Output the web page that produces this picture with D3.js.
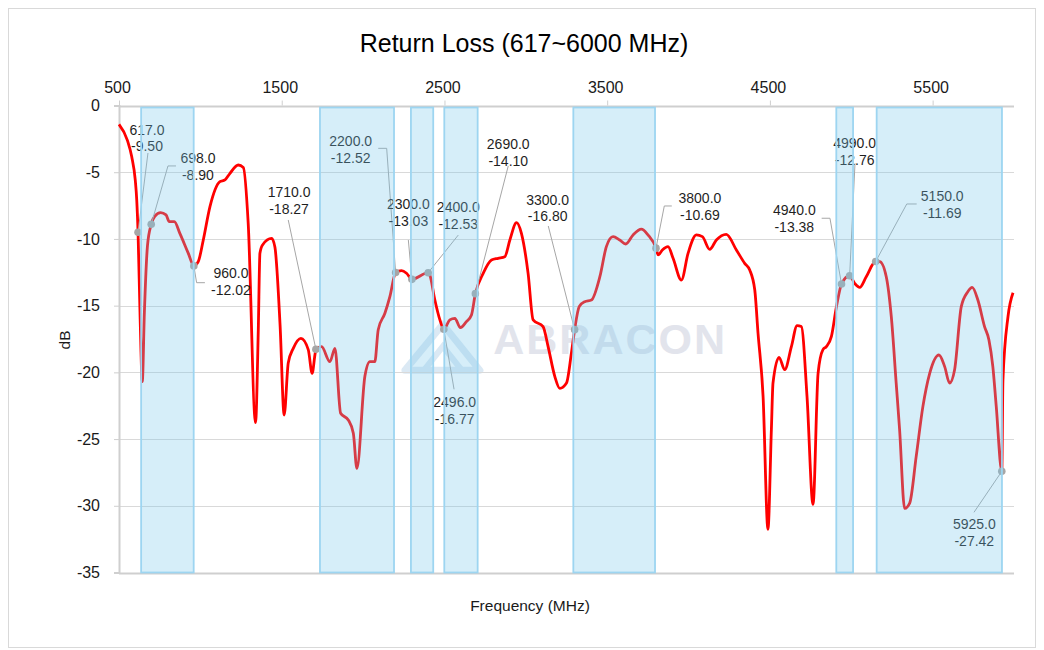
<!DOCTYPE html>
<html><head><meta charset="utf-8">
<script src="https://cdn.jsdelivr.net/npm/d3@7"></script>
<style>
html,body{margin:0;padding:0;background:#fff;}
svg{display:block;font-family:"Liberation Sans",Arial,sans-serif;}
</style></head><body>
<svg id="chart" width="1044" height="650"></svg>
<script>
// ---- data ----
const freq = [500,551,578,600,609,617,630,643,656,675,698,720,756,789,809,840,874,926,960,987,1018,1059,1120,1151,1182,1233,1264,1294,1339,1356,1366,1382,1438,1458,1490,1515,1540,1571,1618,1663,1687,1704,1710,1745,1796,1827,1862,1909,1940,1962,2011,2042,2072,2093,2134,2165,2200,2236,2267,2300,2400,2410,2441,2472,2496,2533,2564,2598,2635,2666,2690,2738,2789,2830,2871,2902,2943,2973,3014,3045,3106,3137,3178,3209,3250,3280,3300,3328,3362,3403,3455,3495,3536,3577,3614,3659,3710,3751,3800,3813,3839,3874,3905,3956,3997,4048,4085,4130,4171,4232,4294,4345,4376,4407,4427,4458,4488,4509,4519,4556,4591,4632,4667,4693,4728,4765,4796,4826,4847,4878,4909,4940,4990,5021,5052,5092,5150,5175,5215,5246,5276,5297,5328,5359,5399,5440,5482,5539,5574,5604,5635,5676,5716,5743,5778,5819,5846,5870,5891,5925,5932,5963,5994];
const returnLoss = [-1.41,-2.59,-3.83,-5.6,-7.08,-9.50,-16.0,-20.7,-15.5,-10.5,-8.90,-8.3,-8.03,-8.2,-8.7,-8.7,-9.58,-11.08,-12.02,-11.7,-10.08,-7.58,-5.71,-5.58,-5.08,-4.46,-4.64,-8.83,-23.77,-16.8,-11.08,-10.45,-9.96,-10.6,-16.5,-23.2,-19.3,-18.2,-17.45,-18.3,-20.07,-18.7,-18.27,-18.07,-19.2,-18.2,-23.07,-23.57,-24.57,-27.2,-20.3,-19.2,-19.2,-16.8,-15.57,-14.3,-12.52,-12.37,-12.57,-13.03,-12.53,-12.7,-14.58,-16.07,-16.77,-16.07,-15.95,-16.65,-16.2,-15.7,-14.10,-12.58,-11.58,-11.45,-11.33,-10.08,-8.78,-9.58,-12.58,-16.07,-16.57,-18.07,-20.3,-21.2,-20.8,-18.57,-16.80,-15.07,-14.7,-14.58,-12.83,-10.58,-9.83,-10.08,-10.38,-9.7,-9.26,-9.7,-10.69,-11.2,-10.83,-10.58,-11.45,-13.08,-11.08,-9.7,-9.83,-10.78,-10.08,-9.66,-10.83,-11.83,-12.33,-13.83,-17.07,-21.8,-31.76,-24.3,-20.8,-18.87,-19.8,-18.07,-16.5,-16.57,-21.8,-29.9,-20.07,-18.3,-18.07,-17.3,-15.07,-13.38,-12.76,-13.33,-13.63,-12.83,-11.69,-11.7,-12.83,-15.83,-20.8,-24.3,-30.2,-29.8,-26.3,-22.57,-20.07,-18.7,-19.57,-20.8,-19.8,-15.07,-13.96,-13.63,-14.58,-16.57,-17.57,-19.57,-22.57,-27.42,-20.6,-15.83,-14.03];

const xTicks = [500,1500,2500,3500,4500,5500];
const yTicks = [0,-5,-10,-15,-20,-25,-30,-35];

const bandStart = [636,1735,2294,2499,3292,4908,5156];
const bandEnd   = [959,2190,2431,2704,3794,5011,5926];

const markFreq  = [617,698,960,1710,2200,2300,2400,2496,2690,3300,3800,4940,4990,5150,5925];
const markValue = [-9.50,-8.90,-12.02,-18.27,-12.52,-13.03,-12.53,-16.77,-14.10,-16.80,-10.69,-13.38,-12.76,-11.69,-27.42];

// label anchors and leader ends, in data units (MHz, dB)
const labelFreq  = [672,985,1188,1545,1924,2278,2585,2563,2892,3134,4070,4650,5021,5559,5756];
const labelDb    = [-2.44,-4.57,-13.19,-7.12,-3.30,-8.04,-8.23,-22.86,-3.52,-7.70,-7.58,-8.49,-3.46,-7.43,-31.99];
const leaderFreq = [678,850,1028,1540,2093,2278,2585,2559,2892,3138,3897,4818,5023,5402,5754];
const leaderDb   = [-3.56,-4.53,-13.28,-8.58,-3.21,-10.08,-9.71,-21.27,-4.53,-9.03,-7.53,-8.45,-4.33,-7.38,-30.49];
const elbowFreq  = [null,801,977,null,2145,null,null,null,null,null,3851,4869,null,5341,null];

const titleText = "Return Loss (617~6000 MHz)";
const xTitle = "Frequency (MHz)";
const yTitle = "dB";

// ---- drawing ----
const svg = d3.select("#chart");
const W = 1044, H = 650;
const plot = {left:119, right:1014, top:105.5, bottom:572.5};

const x = d3.scaleLinear().domain([500,6000]).range([plot.left, plot.right]);
const y = d3.scaleLinear().domain([0,-35]).range([plot.top, plot.bottom]);

svg.append("rect").attr("width",W).attr("height",H).attr("fill","#fff");
svg.append("rect").attr("x",8.5).attr("y",8.5).attr("width",1027).attr("height",639)
  .attr("fill","none").attr("stroke","#d9d9d9").attr("stroke-width",1);

// title
svg.append("text").attr("x",524).attr("y",52).attr("text-anchor","middle")
  .attr("font-size",25).attr("fill","#000").text(titleText);

// watermark
const wm = svg.append("g").attr("class","watermark");
const lx = x(2472), ly = y(-16.4);
wm.append("path")
  .attr("d", `M${lx-35},${ly+46} L${lx+3},${ly} L${lx+40},${ly+46} Z`)
  .attr("fill","none").attr("stroke","#dbe9f4").attr("stroke-width",7).attr("stroke-linejoin","round");
wm.append("path")
  .attr("d", `M${lx-16},${ly+46} L${lx+3},${ly+22} L${lx+22},${ly+46}`)
  .attr("fill","none").attr("stroke","#dbe9f4").attr("stroke-width",6);
wm.append("text").attr("x",x(2800)).attr("y",y(-18.6)).attr("font-size",43).attr("font-weight","bold")
  .attr("letter-spacing",2).attr("fill","#e2e4ec").text("ABRACON");

// gridlines
svg.append("g").selectAll("line").data(yTicks).join("line")
  .attr("x1",plot.left).attr("x2",plot.right)
  .attr("y1",d=>Math.round(y(d))+0.5).attr("y2",d=>Math.round(y(d))+0.5)
  .attr("stroke",d=> (d===0||d===-35)?"#cfcfcf":"#d9d9d9").attr("stroke-width",d=>(d===0||d===-35)?2:1);

// top axis
const fmt = d => String(d);
const xAxis = svg.append("g").attr("transform",`translate(0,${plot.top})`)
  .call(d3.axisTop(x).tickValues(xTicks).tickSize(5).tickPadding(8).tickFormat(fmt));
xAxis.select(".domain").remove();
xAxis.selectAll(".tick line").attr("stroke","#cfcfcf");
xAxis.selectAll("text").attr("font-size",16).attr("fill","#1a1a1a").attr("font-family","Liberation Sans, Arial, sans-serif").attr("dx","-2");

// left axis
const yAxis = svg.append("g").attr("transform",`translate(${plot.left},0)`)
  .call(d3.axisLeft(y).tickValues(yTicks).tickSize(5).tickPadding(14).tickFormat(fmt));
yAxis.select(".domain").attr("stroke","#cfcfcf").attr("stroke-width",2);
yAxis.selectAll(".tick line").attr("stroke","#cfcfcf");
yAxis.selectAll("text").attr("font-size",16).attr("fill","#1a1a1a").attr("font-family","Liberation Sans, Arial, sans-serif");

// axis titles
svg.append("text").attr("x",530).attr("y",611).attr("text-anchor","middle")
  .attr("font-size",15.5).attr("fill","#1a1a1a").text(xTitle);
svg.append("text").attr("transform","translate(70,340) rotate(-90)").attr("text-anchor","middle")
  .attr("font-size",15.5).attr("fill","#1a1a1a").text(yTitle);

// curve
const pts = freq.map((f,i)=>[f,returnLoss[i]]);
const line = d3.line().x(d=>x(d[0])).y(d=>y(d[1])).curve(d3.curveMonotoneX);
svg.append("path").datum(pts).attr("d",line)
  .attr("fill","none").attr("stroke","#ff0000").attr("stroke-width",2.8).attr("stroke-linejoin","round");

// annotations
const ann = markFreq.map((f,i)=>({f, v:markValue[i], lf:labelFreq[i], ld:labelDb[i], ef:leaderFreq[i], ed:leaderDb[i], kf:elbowFreq[i]}));
const ag = svg.append("g");
ag.selectAll("path").data(ann).join("path")
  .attr("d", d=>{
    const p = [[x(d.f),y(d.v)]];
    if (d.kf!==null) p.push([x(d.kf),y(d.ed)]);
    p.push([x(d.ef),y(d.ed)]);
    return d3.line()(p);
  })
  .attr("fill","none").attr("stroke","#a6a6a6").attr("stroke-width",1);
ag.selectAll("circle").data(ann).join("circle")
  .attr("cx",d=>x(d.f)).attr("cy",d=>y(d.v)).attr("r",3.8).attr("fill","#a6a6a6");
const lt = ag.selectAll("text").data(ann).join("text")
  .attr("text-anchor","middle").attr("font-size",14).attr("fill","#1f1f1f");
lt.append("tspan").attr("x",d=>x(d.lf)).attr("y",d=>y(d.ld)-8.3).attr("dy","0.35em").text(d=>d.f.toFixed(1));
lt.append("tspan").attr("x",d=>x(d.lf)).attr("y",d=>y(d.ld)+8.3).attr("dy","0.35em").text(d=>d.v.toFixed(2));

// bands (translucent overlay)
svg.append("g").selectAll("rect").data(bandStart.map((s,i)=>[s,bandEnd[i]])).join("rect")
  .attr("x",d=>x(d[0])).attr("width",d=>x(d[1])-x(d[0]))
  .attr("y",y(-0.15)).attr("height",y(-35)-y(-0.15))
  .attr("fill","rgb(118,198,235)").attr("fill-opacity",0.3)
  .attr("stroke","#9dd5f1").attr("stroke-width",1.8);
</script>
</body></html>
